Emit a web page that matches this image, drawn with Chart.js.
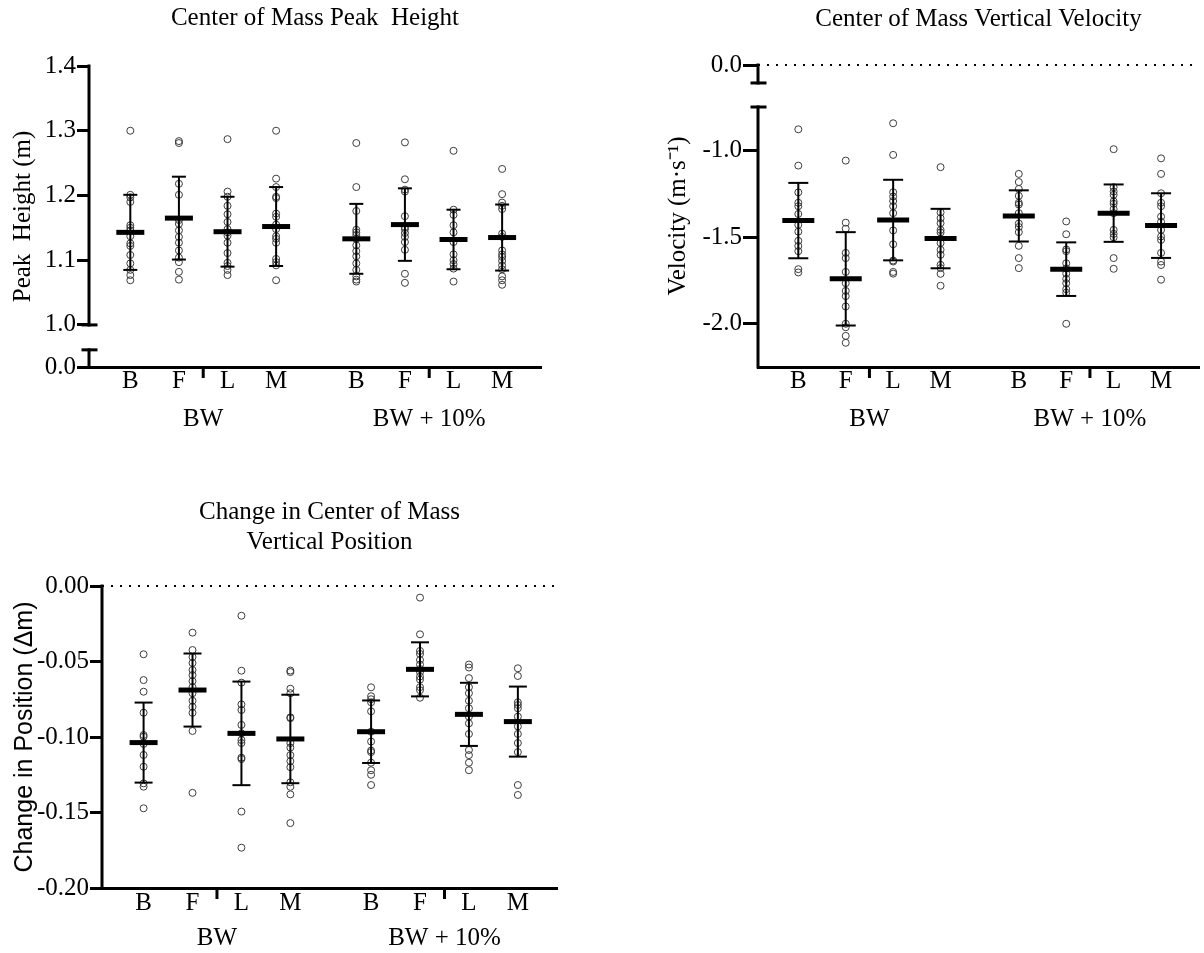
<!DOCTYPE html>
<html>
<head>
<meta charset="utf-8">
<script src="https://cdn.jsdelivr.net/npm/chart.js@4.4.1/dist/chart.umd.min.js"></script>
<style>
  html, body { margin: 0; padding: 0; background: #fff; width: 1204px; height: 953px; overflow: hidden; position: relative; }
  canvas { position: absolute; }
</style>
</head>
<body>
<canvas id="c1" width="560" height="440" style="left:0px;top:0px"></canvas>
<canvas id="c2" width="580" height="440" style="left:640px;top:0px"></canvas>
<canvas id="c3" width="580" height="491" style="left:0px;top:470px"></canvas>
<script>
// groups are listed BW: B, F, L, M then BW + 10%: B, F, L, M
const categories = ['B', 'F', 'L', 'M'];
const conditions = ['BW', 'BW + 10%'];

// Center of mass peak height (m)
const heightPoints = [
    [1.300, 1.201, 1.197, 1.190, 1.154, 1.150, 1.146, 1.137, 1.126, 1.122, 1.108, 1.095, 1.085, 1.077, 1.069],
    [1.284, 1.281, 1.218, 1.201, 1.162, 1.156, 1.146, 1.136, 1.127, 1.115, 1.104, 1.097, 1.082, 1.070],
    [1.287, 1.206, 1.198, 1.184, 1.171, 1.159, 1.148, 1.143, 1.138, 1.127, 1.111, 1.096, 1.091, 1.085, 1.077],
    [1.300, 1.226, 1.213, 1.198, 1.196, 1.172, 1.167, 1.155, 1.148, 1.137, 1.133, 1.127, 1.102, 1.097, 1.092, 1.069],
    [1.281, 1.213, 1.176, 1.147, 1.143, 1.139, 1.133, 1.123, 1.114, 1.106, 1.095, 1.085, 1.075, 1.070, 1.067],
    [1.282, 1.225, 1.209, 1.206, 1.168, 1.151, 1.148, 1.142, 1.136, 1.128, 1.116, 1.079, 1.065],
    [1.269, 1.178, 1.170, 1.154, 1.143, 1.128, 1.109, 1.100, 1.094, 1.087, 1.067],
    [1.241, 1.202, 1.189, 1.184, 1.179, 1.141, 1.136, 1.115, 1.109, 1.105, 1.099, 1.092, 1.086, 1.075, 1.069, 1.062]
];
const heightMean = [1.143, 1.165, 1.144, 1.152, 1.133, 1.155, 1.132, 1.135];
const heightSD = [0.058, 0.064, 0.054, 0.061, 0.054, 0.056, 0.046, 0.051];
const heightTicks = [0.0, 1.0, 1.1, 1.2, 1.3, 1.4];
const heightTickLabels = ['0.0', '1.0', '1.1', '1.2', '1.3', '1.4'];

// Center of mass vertical velocity (m/s)
const velocityPoints = [
    [-0.875, -1.085, -1.24, -1.30, -1.32, -1.365, -1.428, -1.467, -1.52, -1.55, -1.58, -1.684, -1.703],
    [-1.056, -1.415, -1.45, -1.59, -1.62, -1.70, -1.765, -1.81, -1.84, -1.90, -2.0, -2.02, -2.07, -2.11],
    [-0.84, -1.023, -1.239, -1.264, -1.29, -1.32, -1.36, -1.46, -1.54, -1.634, -1.64, -1.70, -1.71],
    [-1.094, -1.356, -1.389, -1.418, -1.457, -1.472, -1.533, -1.572, -1.601, -1.659, -1.678, -1.711, -1.780],
    [-1.133, -1.18, -1.22, -1.26, -1.30, -1.31, -1.36, -1.42, -1.44, -1.47, -1.549, -1.62, -1.678],
    [-1.408, -1.482, -1.57, -1.58, -1.65, -1.68, -1.71, -1.74, -1.765, -1.80, -1.82, -2.0],
    [-0.99, -1.21, -1.235, -1.254, -1.292, -1.306, -1.337, -1.36, -1.457, -1.48, -1.50, -1.62, -1.682],
    [-1.043, -1.133, -1.245, -1.30, -1.32, -1.38, -1.41, -1.457, -1.495, -1.515, -1.59, -1.64, -1.66, -1.745]
];
const velocityMean = [-1.403, -1.74, -1.40, -1.507, -1.376, -1.684, -1.36, -1.432];
const velocitySD = [0.218, 0.27, 0.233, 0.172, 0.148, 0.155, 0.166, 0.187];
const velocityTicks = [-2.0, -1.5, -1.0, 0.0];
const velocityTickLabels = ['-2.0', '-1.5', '-1.0', '0.0'];

// Change in center of mass vertical position (m)
const positionPoints = [
    [-0.0452, -0.0623, -0.070, -0.0839, -0.0987, -0.0998, -0.1046, -0.1119, -0.1197, -0.1307, -0.1329, -0.1472],
    [-0.0309, -0.0424, -0.047, -0.051, -0.0556, -0.059, -0.063, -0.067, -0.071, -0.076, -0.080, -0.084, -0.096, -0.137],
    [-0.0197, -0.0561, -0.064, -0.0784, -0.0821, -0.092, -0.0976, -0.102, -0.104, -0.1137, -0.1146, -0.1494, -0.1733],
    [-0.056, -0.057, -0.068, -0.071, -0.087, -0.0875, -0.104, -0.107, -0.112, -0.116, -0.120, -0.130, -0.133, -0.138, -0.157],
    [-0.0671, -0.073, -0.075, -0.077, -0.083, -0.0965, -0.103, -0.109, -0.110, -0.117, -0.122, -0.125, -0.1318],
    [-0.0077, -0.032, -0.043, -0.045, -0.049, -0.052, -0.055, -0.057, -0.060, -0.062, -0.067, -0.069, -0.074],
    [-0.052, -0.054, -0.061, -0.067, -0.071, -0.076, -0.081, -0.0865, -0.091, -0.098, -0.1086, -0.112, -0.117, -0.122],
    [-0.0545, -0.0596, -0.077, -0.0788, -0.081, -0.0865, -0.093, -0.098, -0.104, -0.110, -0.1318, -0.1384]
];
const positionMean = [-0.1037, -0.0689, -0.0976, -0.1013, -0.0965, -0.0552, -0.085, -0.0898];
const positionSD = [0.0265, 0.0242, 0.0343, 0.0293, 0.0207, 0.0179, 0.0209, 0.0232];
const positionTicks = [-0.20, -0.15, -0.10, -0.05, 0.00];
const positionTickLabels = ['-0.20', '-0.15', '-0.10', '-0.05', '0.00'];

// layout of the category axis
const X_MIN = 0.15;
const X_MAX = 9.45;
const catPos = [1, 2, 3, 4, 5.65, 6.65, 7.65, 8.65];
const groupPos = [2.5, 7.15];

const SERIF = "'Liberation Serif', 'Times New Roman', serif";
const SANS = "'Liberation Sans', Arial, sans-serif";

/**
 * Draws the (broken) y axis line, break caps and the group ticks on the x axis
 */
const brokenAxis = {
    id: 'brokenAxis',
    afterDraw(chart, args, opts) {
        const { ctx, chartArea, scales } = chart;
        const ax = chartArea.left;
        ctx.save();
        ctx.strokeStyle = '#000';
        ctx.lineWidth = 3;
        ctx.lineCap = 'square';
        opts.segments.forEach(seg => {
            ctx.beginPath();
            ctx.moveTo(ax, scales.y.getPixelForValue(seg.from));
            ctx.lineTo(ax, scales.y.getPixelForValue(seg.to));
            ctx.stroke();
            seg.caps.forEach(v => {
                const py = scales.y.getPixelForValue(v);
                ctx.beginPath();
                ctx.moveTo(ax - 6, py);
                ctx.lineTo(ax + 7, py);
                ctx.stroke();
            });
        });
        ctx.lineCap = 'butt';
        opts.groupTicks.forEach(v => {
            const px = scales.x.getPixelForValue(v);
            ctx.beginPath();
            ctx.moveTo(px, chartArea.bottom);
            ctx.lineTo(px, chartArea.bottom + 11);
            ctx.stroke();
        });
        ctx.restore();
    }
};

function makePanel(id, p) {
    const letters = catPos.map((v, i) => categories[i % categories.length]);
    const datasets = [];

    // mean bars
    datasets.push({
        type: 'scatter',
        data: p.mean.map((m, i) => ({ x: catPos[i], y: m })),
        pointStyle: 'line',
        pointRadius: p.meanR,
        pointBorderWidth: 5,
        pointBorderColor: '#000',
        clip: false
    });

    // SD whiskers with caps
    p.mean.forEach((m, i) => {
        datasets.push({
            type: 'line',
            data: [{ x: catPos[i], y: m - p.sd[i] }, { x: catPos[i], y: m + p.sd[i] }],
            borderColor: '#000',
            borderWidth: 2,
            pointStyle: 'line',
            pointRadius: p.capR,
            pointBorderWidth: 2,
            pointBorderColor: '#000',
            clip: false
        });
    });

    // individual subjects
    datasets.push({
        type: 'scatter',
        data: p.points.flatMap((g, i) => g.map(v => ({ x: catPos[i], y: v }))),
        pointStyle: 'circle',
        pointRadius: 3.5,
        pointBorderWidth: 1,
        pointBorderColor: '#3c3c3c',
        pointBackgroundColor: 'rgba(255,255,255,0)',
        clip: false
    });

    // dotted zero line
    if (p.zero !== null) {
        datasets.push({
            type: 'line',
            data: [{ x: X_MIN, y: p.zero }, { x: X_MAX, y: p.zero }],
            borderColor: '#000',
            borderWidth: 2,
            borderDash: [2, 7],
            pointRadius: 0,
            clip: false
        });
    }

    datasets.forEach(d => { d.xAxisID = 'x'; d.yAxisID = 'y'; });

    return new Chart(document.getElementById(id), {
        type: 'scatter',
        data: { datasets },
        options: {
            responsive: false,
            animation: false,
            events: [],
            layout: { padding: { left: 0, right: p.padRight, top: 0, bottom: 0 } },
            plugins: {
                legend: { display: false },
                tooltip: { enabled: false },
                title: {
                    display: true,
                    fullSize: false,
                    text: p.title,
                    color: '#000',
                    font: { family: SERIF, size: 25, weight: 'normal', lineHeight: 1.2 },
                    padding: { top: p.titleTop, bottom: p.titleBottom }
                },
                brokenAxis: { segments: p.segments, groupTicks: groupPos }
            },
            scales: {
                x: {
                    type: 'linear',
                    position: 'bottom',
                    min: X_MIN,
                    max: X_MAX,
                    afterBuildTicks: s => { s.ticks = catPos.map(v => ({ value: v })); },
                    afterFit: s => { s.height = 28; },
                    grid: { display: false, drawTicks: false },
                    border: { display: true, width: 3, color: '#000' },
                    ticks: {
                        autoSkip: false, maxRotation: 0, minRotation: 0,
                        padding: p.xPad,
                        color: '#000',
                        font: { family: SERIF, size: 25, lineHeight: 1.1 },
                        callback: (v, i) => letters[i]
                    }
                },
                x2: {
                    type: 'linear',
                    position: 'bottom',
                    min: X_MIN,
                    max: X_MAX,
                    afterBuildTicks: s => { s.ticks = groupPos.map(v => ({ value: v })); },
                    afterFit: s => { s.height = 45; },
                    grid: { display: false, drawTicks: false },
                    border: { display: false },
                    ticks: {
                        autoSkip: false, maxRotation: 0, minRotation: 0,
                        padding: p.x2Pad,
                        color: '#000',
                        font: { family: SERIF, size: 25, lineHeight: 1.1 },
                        callback: (v, i) => conditions[i]
                    }
                },
                y: {
                    type: 'linear',
                    position: 'left',
                    min: p.yMin,
                    max: p.yMax,
                    afterBuildTicks: s => { s.ticks = p.ticks.map(t => ({ value: p.place(t) })); },
                    afterFit: s => { s.width = p.yWidth; },
                    grid: {
                        display: true, drawOnChartArea: false, drawTicks: true,
                        tickLength: p.tickLen, lineWidth: 3, color: '#000'
                    },
                    border: { display: false },
                    ticks: {
                        padding: 1,
                        color: '#000',
                        font: { family: SERIF, size: 25, lineHeight: 1.2 },
                        callback: (v, i) => p.tickLabels[i]
                    },
                    title: {
                        display: true,
                        text: p.yTitle,
                        color: '#000',
                        font: { family: p.yTitleFont, size: 25, lineHeight: 1.2 },
                        padding: { top: p.yTitlePad, bottom: 0 }
                    }
                }
            }
        },
        plugins: [brokenAxis]
    });
}

makePanel('c1', {
    title: 'Center of Mass Peak  Height',
    titleTop: 3, titleBottom: 33,
    points: heightPoints, mean: heightMean, sd: heightSD,
    ticks: heightTicks, tickLabels: heightTickLabels,
    yMin: 0.935, yMax: 1.4,
    place: t => (t < 0.95 ? 0.935 : t),
    segments: [{ from: 1.4, to: 1.0, caps: [1.0] }, { from: 0.9615, to: 0.935, caps: [0.9615] }],
    zero: null,
    yTitle: 'Peak  Height (m)', yTitleFont: SERIF, yTitlePad: 8,
    yWidth: 89, tickLen: 12, padRight: 19,
    meanR: 14, capR: 7, xPad: 1, x2Pad: 11
});

makePanel('c2', {
    title: 'Center of Mass Vertical Velocity',
    titleTop: 4, titleBottom: 31,
    points: velocityPoints, mean: velocityMean, sd: velocitySD,
    ticks: velocityTicks, tickLabels: velocityTickLabels,
    yMin: -2.25, yMax: -0.503,
    place: t => (t > -0.75 ? -0.503 : t),
    segments: [{ from: -0.503, to: -0.607, caps: [-0.607] }, { from: -0.746, to: -2.25, caps: [-0.746] }],
    zero: -0.503,
    yTitle: 'Velocity (m\u00b7s\u207b\u00b9)', yTitleFont: SERIF, yTitlePad: 23,
    yWidth: 118, tickLen: 15, padRight: 10,
    meanR: 16, capR: 10, xPad: 1, x2Pad: 11
});

makePanel('c3', {
    title: ['Change in Center of Mass', 'Vertical Position'],
    titleTop: 27, titleBottom: 29,
    points: positionPoints, mean: positionMean, sd: positionSD,
    ticks: positionTicks, tickLabels: positionTickLabels,
    yMin: -0.2, yMax: 0,
    place: t => t,
    segments: [{ from: 0, to: -0.2, caps: [] }],
    zero: 0,
    yTitle: 'Change in Position (\u0394m)', yTitleFont: SANS, yTitlePad: 10,
    yWidth: 102, tickLen: 12, padRight: 23,
    meanR: 14, capR: 9, xPad: 2, x2Pad: 9
});
</script>
</body>
</html>
